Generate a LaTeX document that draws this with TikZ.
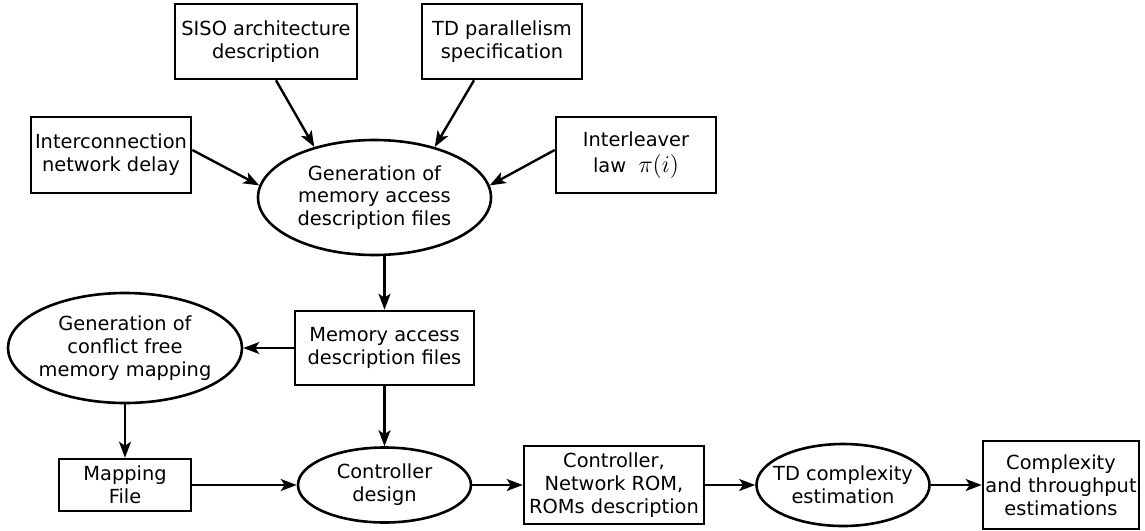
\documentclass[tikz,border=0pt]{standalone}
\usepackage{fontspec}
\setmainfont{DejaVu Sans}
\usepackage{tikz}
\usetikzlibrary{shapes.geometric,arrows.meta}

\tikzset{
    filebox/.style={draw, line width=1.3pt, align=center, inner sep=0pt},
    task/.style={draw, ellipse, line width=1.3pt, align=center, inner xsep=-12pt, inner ysep=0pt},
    flow/.style={-{Stealth[length=8pt,width=6pt,inset=2pt]}, line width=1.2pt},
}

\begin{document}
\begin{tikzpicture}[x=0.5pt, y=-0.5pt, every node/.style={font=\fontsize{9.7}{11.4}\selectfont}]
    \useasboundingbox (0,0) rectangle (1145,530);
    % inputs
    \node[filebox, minimum width=91pt, minimum height=37.5pt] (siso) at (266,41.5) {SISO architecture\\description};
    \node[filebox, minimum width=80pt, minimum height=37.5pt] (tdpar) at (502,41.5) {TD parallelism\\specification};
    \node[filebox, minimum width=80pt, minimum height=38pt] (icnet) at (111,155) {Interconnection\\network delay};
    \node[filebox, minimum width=80pt, minimum height=38pt] (ilaw) at (636,155) {Interleaver\\[1.5pt]law \ {\large$\pi(i)$}};
    \node[task, minimum width=116.5pt, minimum height=57.5pt] (genmem) at (374.5,197.5) {Generation of\\memory access\\description files};
    % middle row
    \node[filebox, minimum width=89.5pt, minimum height=37pt] (memfiles) at (384.5,348) {Memory access\\description files};
    \node[task, minimum width=117pt, minimum height=55pt] (genmap) at (125,348) {Generation of\\conflict free\\memory mapping};
    % bottom row
    \node[filebox, minimum width=66pt, minimum height=26pt] (mapfile) at (125,485) {Mapping\\File};
    \node[task, minimum width=86.5pt, minimum height=37.5pt] (ctrl) at (384.5,485) {Controller\\design};
    \node[filebox, minimum width=90pt, minimum height=39pt] (roms) at (614,485) {Controller,\\Network ROM,\\ROMs description};
    \node[task, minimum width=86.5pt, minimum height=41pt] (tdcx) at (843,485) {TD complexity\\estimation};
    \node[filebox, minimum width=78pt, minimum height=44pt] (estim) at (1061,485) {Complexity\\and throughput\\estimations};

    \draw[flow] ([xshift=5pt]siso.south) -- (genmem.140);
    \draw[flow] ([xshift=-14pt]tdpar.south) -- (genmem.40);
    \draw[flow] ([yshift=2.5pt]icnet.east) -- (genmem.174);
    \draw[flow] ([yshift=2.5pt]ilaw.west) -- (genmem.6);
    \draw[flow] (genmem.south -| memfiles.north) -- (memfiles.north);
    \draw[flow] (memfiles.west) -- (genmap.east);
    \draw[flow] (memfiles.south) -- (ctrl.north);
    \draw[flow] (genmap.south) -- (mapfile.north);
    \draw[flow] (mapfile.east) -- (ctrl.west);
    \draw[flow] (ctrl.east) -- (roms.west);
    \draw[flow] (roms.east) -- (tdcx.west);
    \draw[flow] (tdcx.east) -- (estim.west);
\end{tikzpicture}
\end{document}
